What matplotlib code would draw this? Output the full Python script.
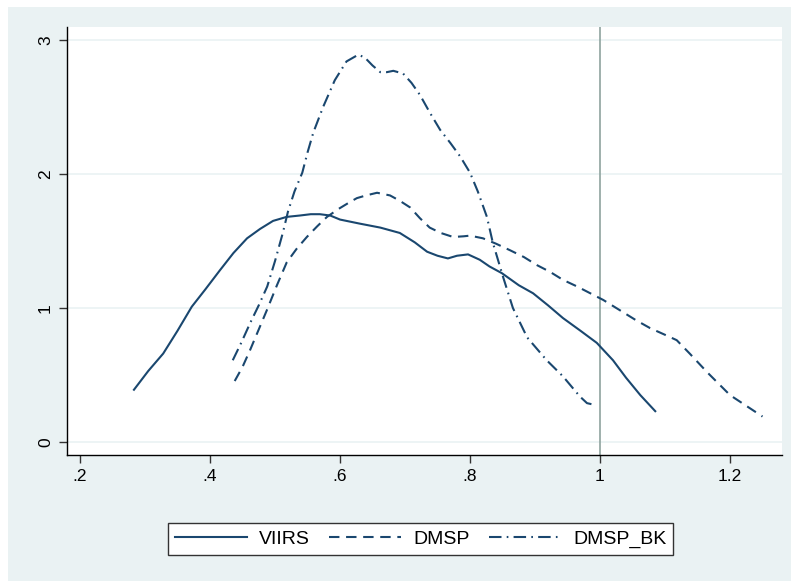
import matplotlib
matplotlib.use("Agg")
import matplotlib.pyplot as plt
from matplotlib.patches import Rectangle

plt.rcParams['font.family'] = ['Liberation Sans', 'DejaVu Sans']

# Data (kernel density estimates)
viirs_x = [0.283, 0.305, 0.328, 0.350, 0.372, 0.393, 0.415, 0.436, 0.457, 0.477, 0.497, 0.518,
           0.538, 0.555, 0.569, 0.585, 0.600, 0.630, 0.662, 0.692, 0.715, 0.734, 0.750, 0.766,
           0.780, 0.797, 0.815, 0.830, 0.849, 0.875, 0.897, 0.920, 0.943, 0.970, 0.995, 1.020,
           1.040, 1.062, 1.085]
viirs_y = [0.39, 0.53, 0.66, 0.83, 1.01, 1.14, 1.28, 1.41, 1.52, 1.59, 1.65, 1.68,
           1.69, 1.70, 1.70, 1.69, 1.66, 1.63, 1.60, 1.56, 1.49, 1.42, 1.39, 1.37,
           1.39, 1.40, 1.36, 1.31, 1.26, 1.17, 1.11, 1.02, 0.925, 0.83, 0.74, 0.61,
           0.48, 0.35, 0.23]

dmsp_x = [0.438, 0.450, 0.462, 0.475, 0.488, 0.503, 0.518, 0.533, 0.549, 0.565, 0.580, 0.598,
          0.615, 0.626, 0.640, 0.657, 0.677, 0.692, 0.708, 0.723, 0.738, 0.755, 0.774, 0.790,
          0.800, 0.820, 0.840, 0.862, 0.883, 0.903, 0.923, 0.943, 0.965, 0.985, 1.005, 1.030,
          1.055, 1.077, 1.100, 1.118, 1.138, 1.165, 1.200, 1.225, 1.250]
dmsp_y = [0.455, 0.56, 0.69, 0.84, 0.99, 1.17, 1.34, 1.44, 1.53, 1.61, 1.68, 1.74,
          1.79, 1.82, 1.84, 1.86, 1.84, 1.80, 1.75, 1.67, 1.60, 1.56, 1.53, 1.535,
          1.54, 1.52, 1.48, 1.43, 1.38, 1.32, 1.27, 1.21, 1.16, 1.11, 1.06, 0.985,
          0.91, 0.85, 0.80, 0.76, 0.66, 0.52, 0.35, 0.27, 0.19]

dmspbk_x = [0.435, 0.448, 0.462, 0.475, 0.488, 0.500, 0.512, 0.520, 0.530, 0.542, 0.550, 0.559,
            0.574, 0.592, 0.610, 0.628, 0.638, 0.650, 0.662, 0.672, 0.682, 0.697, 0.710, 0.723,
            0.738, 0.754, 0.770, 0.785, 0.800, 0.812, 0.826, 0.835, 0.851, 0.866, 0.888, 0.918,
            0.943, 0.969, 0.980, 0.989]
dmspbk_y = [0.61, 0.74, 0.89, 1.02, 1.16, 1.35, 1.56, 1.72, 1.87, 2.01, 2.16, 2.31,
            2.50, 2.70, 2.84, 2.89, 2.87, 2.81, 2.76, 2.76, 2.77, 2.75, 2.68, 2.59,
            2.46, 2.33, 2.23, 2.13, 2.01, 1.87, 1.68, 1.49, 1.23, 1.00, 0.78, 0.61,
            0.49, 0.34, 0.29, 0.28]

xticks = [0.2, 0.4, 0.6, 0.8, 1.0, 1.2]
xticklabels = ['.2', '.4', '.6', '.8', '1', '1.2']
yticks = [0, 1, 2, 3]
yticklabels = ['0', '1', '2', '3']
labels = ['VIIRS', 'DMSP', 'DMSP_BK']

W, H = 791, 581
fig = plt.figure(figsize=(W / 100, H / 100), dpi=100)
fig.patch.set_facecolor('white')
bg = Rectangle((8 / W, 0), 1 - 8 / W, 1 - 7 / H, transform=fig.transFigure,
               facecolor='#EAF2F3', edgecolor='none', zorder=-10)
fig.patches.append(bg)

ax = fig.add_axes([67 / W, 1 - 455 / H, (782 - 67) / W, (455 - 27) / H])
ax.set_zorder(1)
ax.set_facecolor('white')

col = '#1A476F'
ax.plot(viirs_x, viirs_y, color=col, lw=1.5, linestyle='-', label=labels[0])
ax.plot(dmsp_x, dmsp_y, color=col, lw=1.5, linestyle=(0, (5, 3.2)), label=labels[1])
ax.plot(dmspbk_x, dmspbk_y, color=col, lw=1.5, linestyle=(0, (6, 2.5, 0.8, 2.5)), label=labels[2])

ax.axvline(1.0, color='#8FA39E', lw=1.2, zorder=1)

for yv in yticks:
    ax.axhline(yv, color='#EAF2F3', lw=1.2, zorder=0.5)

ax.set_xlim(0.18, 1.28)
ax.set_ylim(-0.097, 3.097)
ax.set_xticks(xticks)
ax.set_xticklabels(xticklabels)
ax.set_yticks(yticks)
ax.set_yticklabels(yticklabels, rotation=90, va='center')
ax.tick_params(axis='both', direction='out', length=6, width=1, colors='#333333',
               labelcolor='black', labelsize=12.5, pad=4)

for s in ['top', 'right']:
    ax.spines[s].set_visible(False)
for s in ['left', 'bottom']:
    ax.spines[s].set_color('black')
    ax.spines[s].set_linewidth(1.0)

leg = fig.legend(loc='center left', bbox_to_anchor=(168 / W, 1 - 539 / H), ncol=3,
                 frameon=True, fancybox=False, edgecolor='#333333', facecolor='white',
                 framealpha=1, fontsize=14, handlelength=3.7, handletextpad=0.62,
                 columnspacing=1.0, borderpad=0.36, borderaxespad=0)
leg.get_frame().set_linewidth(1.0)

fig.savefig('out.png', dpi=100)
